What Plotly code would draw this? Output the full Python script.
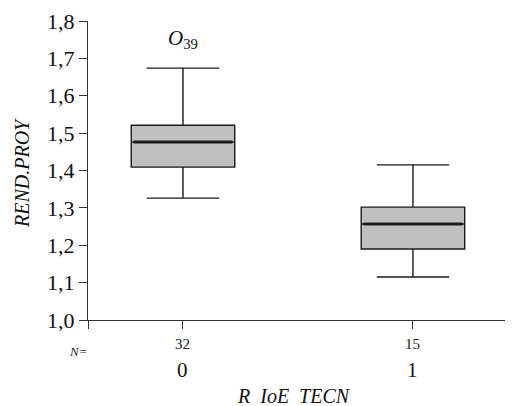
import plotly.graph_objects as go

categories = [0, 1]
counts = [32, 15]
q1 = [1.409, 1.190]
median = [1.476, 1.257]
q3 = [1.521, 1.302]
lower_whisker = [1.326, 1.115]
upper_whisker = [1.674, 1.415]
outlier_x = [0]
outlier_y = [1.75]
outlier_labels = ["39"]
y_ticks = [1.0, 1.1, 1.2, 1.3, 1.4, 1.5, 1.6, 1.7, 1.8]

FONT = "'Liberation Serif', 'Times New Roman', Times, serif"
BOX_W = 0.45
x_range = [-0.413, 1.435]

# page body has an 8px default margin: work in reference pixels, then shift
OFF = 8
W, H = 513 - OFF, 406 - OFF
L, T = 88 - OFF, 21 - OFF
R = 0
B = H - (320 - OFF)
pw, ph = W - L - R, H - T - B

fig = go.Figure()
for i, c in enumerate(categories):
    fig.add_trace(go.Box(
        x=[c], q1=[q1[i]], median=[median[i]], q3=[q3[i]],
        lowerfence=[lower_whisker[i]], upperfence=[upper_whisker[i]],
        width=BOX_W, whiskerwidth=0.7, boxpoints=False,
        fillcolor="#c0c0c0", line=dict(color="#1a1a1a", width=1.4),
        showlegend=False, hoverinfo="skip",
    ))
    fig.add_trace(go.Scatter(
        x=[c - BOX_W / 2 + 0.01, c + BOX_W / 2 - 0.01], y=[median[i], median[i]],
        mode="lines", line=dict(color="#1a1a1a", width=3),
        showlegend=False, hoverinfo="skip",
    ))

fig.add_trace(go.Scatter(
    x=outlier_x, y=outlier_y, mode="text",
    text=["<i>O</i><sub>%s</sub>" % l for l in outlier_labels],
    textfont=dict(family=FONT, size=21, color="#111"),
    showlegend=False, hoverinfo="skip",
))


def py(yref_px):
    return (H - B - (yref_px - OFF)) / ph


def px(xref_px):
    return ((xref_px - OFF) - L) / pw


annotations = []
for c, n in zip(categories, counts):
    annotations.append(dict(x=c, y=py(344), xref="x", yref="paper", text=str(n),
                            showarrow=False, yanchor="middle",
                            font=dict(family=FONT, size=15, color="#222")))
    annotations.append(dict(x=c, y=py(370), xref="x", yref="paper", text=str(c),
                            showarrow=False, yanchor="middle",
                            font=dict(family=FONT, size=21, color="#111")))
annotations.append(dict(x=px(78), y=py(351), xref="paper", yref="paper", text="<i>N=</i>",
                        showarrow=False, xanchor="center", yanchor="middle",
                        font=dict(family=FONT, size=13, color="#222")))
annotations.append(dict(x=px(294), y=py(396), xref="paper", yref="paper",
                        text="<i>R\u00a0 IoE\u00a0 TECN</i>", showarrow=False,
                        xanchor="center", yanchor="middle",
                        font=dict(family=FONT, size=20, color="#111")))
annotations.append(dict(x=px(22), y=py(173), xref="paper", yref="paper",
                        text="<i>REND.PROY</i>", showarrow=False, textangle=-90,
                        xanchor="center", yanchor="middle",
                        font=dict(family=FONT, size=20, color="#111")))

fig.update_layout(
    width=W, height=H, margin=dict(l=L, r=R, t=T, b=B, pad=0),
    paper_bgcolor="white", plot_bgcolor="white",
    separators=",.",
    annotations=annotations,
    xaxis=dict(range=x_range, tickvals=[x_range[0]] + categories, showticklabels=False,
               ticks="outside", ticklen=8, tickwidth=1.4, tickcolor="#333",
               showline=True, linecolor="#333", linewidth=1.4, showgrid=False,
               zeroline=False, fixedrange=True, automargin=False),
    yaxis=dict(range=[1.0, 1.8], tickvals=y_ticks, tickformat=".1f",
               ticks="outside", ticklen=8, tickwidth=1.4, tickcolor="#333",
               tickfont=dict(family=FONT, size=22, color="#111"),
               showline=True, linecolor="#333", linewidth=1.4, showgrid=False,
               zeroline=False, fixedrange=True, automargin=False),
)

fig.write_html("out.html")
